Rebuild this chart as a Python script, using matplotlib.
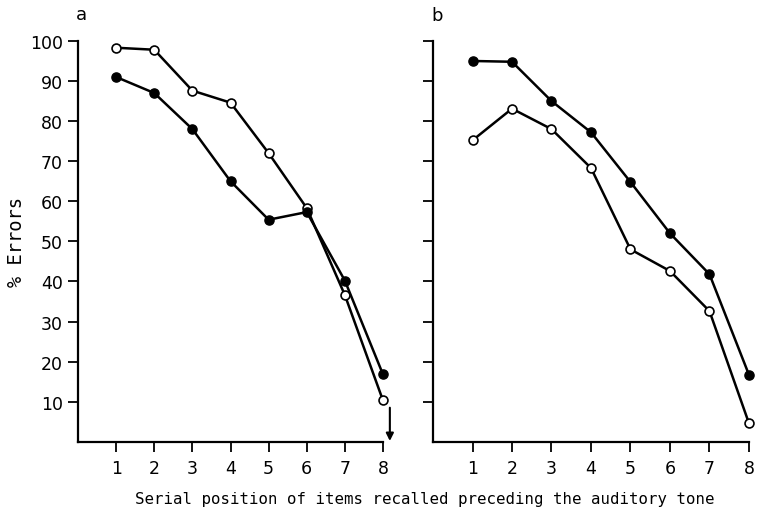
import matplotlib
matplotlib.use("Agg")
import matplotlib.pyplot as plt

# Serial positions of the items recalled before the auditory tone
positions = [1, 2, 3, 4, 5, 6, 7, 8]

# Panel a: % errors per serial position
a_filled = [91.0, 87.0, 78.0, 65.0, 55.4, 57.3, 40.2, 16.8]
a_open = [98.3, 97.8, 87.6, 84.6, 72.0, 58.3, 36.6, 10.3]

# Panel b: % errors per serial position
b_filled = [95.0, 94.8, 85.0, 77.2, 64.8, 52.0, 41.8, 16.7]
b_open = [75.2, 83.1, 78.0, 68.3, 48.0, 42.6, 32.6, 4.6]

y_ticks = [10, 20, 30, 40, 50, 60, 70, 80, 90, 100]
panel_labels = ["a", "b"]
x_label = "Serial position of items recalled preceding the auditory tone"
y_label = "% Errors"

plt.rcParams["font.family"] = ["DejaVu Sans"]

fig = plt.figure(figsize=(7.59, 5.10), dpi=100)
ax_a = fig.add_axes([0.1028, 0.1318, 0.4018, 0.786])
ax_b = fig.add_axes([0.5705, 0.1318, 0.4163, 0.786])

lw = 1.8
for ax, filled, opened in [(ax_a, a_filled, a_open), (ax_b, b_filled, b_open)]:
    ax.plot(positions, opened, color="black", lw=lw, marker="o", ms=6.4,
            mfc="white", mec="black", mew=1.2, clip_on=False, zorder=3)
    ax.plot(positions, filled, color="black", lw=lw, marker="o", ms=6.6,
            mfc="black", mec="black", clip_on=False, zorder=4)
    ax.set_xlim(0, 8)
    ax.set_ylim(0, 100)
    ax.set_xticks(positions)
    ax.set_xticklabels([str(p) for p in positions], fontsize=12.5)
    ax.set_yticks(y_ticks)
    for side in ("top", "right"):
        ax.spines[side].set_visible(False)
    for side in ("left", "bottom"):
        ax.spines[side].set_linewidth(1.6)
    ax.tick_params(axis="x", direction="out", length=7.5, width=1.3, pad=5)
    ax.tick_params(axis="y", direction="out", length=7.5, width=1.3, pad=3.5)

ax_a.set_yticklabels([str(t) for t in y_ticks], fontsize=12.5)
ax_b.set_yticklabels([])

ax_a.set_ylabel(y_label, fontsize=13.5, family="DejaVu Sans Mono", labelpad=3)

# Arrow marking the tone after the last position
ax_a.annotate("", xy=(8.18, 0.2), xytext=(8.18, 8.5), annotation_clip=False,
              arrowprops=dict(arrowstyle="-|>", color="black", lw=1.5,
                              mutation_scale=11, shrinkA=0, shrinkB=0))

fig.text(0.56, 0.012, x_label, ha="center", va="baseline", fontsize=11.3,
         family="DejaVu Sans Mono")

fig.text(0.100, 0.961, panel_labels[0], fontsize=13, ha="left", va="baseline")
fig.text(0.569, 0.959, panel_labels[1], fontsize=13, ha="left", va="baseline")

fig.savefig("out.png", dpi=100)
